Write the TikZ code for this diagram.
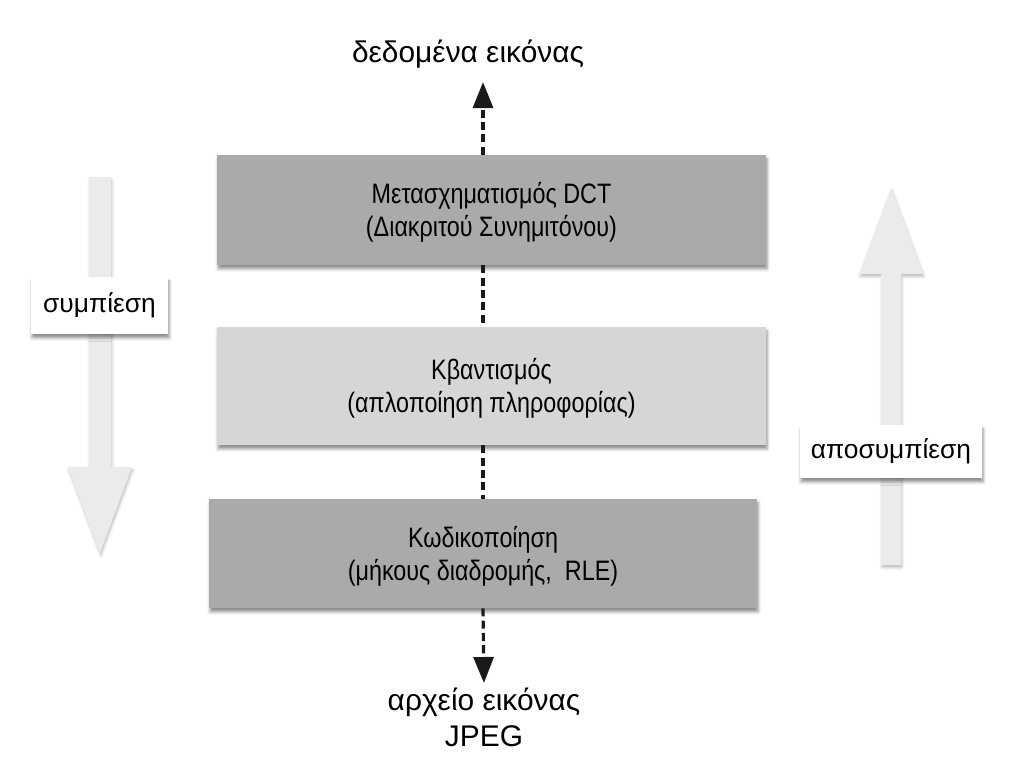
\documentclass[tikz,border=0pt]{standalone}
\usepackage{fontspec}
\setmainfont{Liberation Sans}
\newfontfamily\boxfont{Liberation Sans}[FakeStretch=0.83]
\usetikzlibrary{arrows.meta,shadows.blur}

\definecolor{darkstage}{HTML}{AAAAAA}
\definecolor{lightstage}{HTML}{D6D6D6}
\definecolor{bigarrow}{HTML}{EBEBEB}
\definecolor{flowgray}{HTML}{1A1A1A}

\begin{document}
\begin{tikzpicture}[
            x=0.02cm, y=-0.02cm,
            stage/.style={rectangle, minimum width=10.98cm, minimum height=2.2cm, inner sep=0pt,
                align=center, font=\boxfont\fontsize{16}{19}\selectfont, text height=34pt,
                blur shadow={shadow xshift=0.6pt, shadow yshift=-2.2pt, shadow blur radius=1.8pt, shadow opacity=45}},
            tag/.style={rectangle, fill=white, inner sep=0pt, font=\fontsize{15}{18}\selectfont,
                blur shadow={shadow xshift=0.6pt, shadow yshift=-2.2pt, shadow blur radius=1.8pt, shadow opacity=45}},
            io/.style={inner sep=0pt, align=center, font=\fontsize{17}{20.5}\selectfont},
            flow/.style={draw=flowgray, line width=1.8pt, dash pattern=on 4.6pt off 2.4pt,
                -{Triangle[length=0.52cm, width=0.4cm]}},
            link/.style={draw=flowgray, line width=1.8pt, dash pattern=on 4.6pt off 2.4pt},
            bigarr/.style={fill=bigarrow,
                blur shadow={shadow xshift=0.5pt, shadow yshift=-1.5pt, shadow blur radius=1.5pt, shadow opacity=25}}
        ]
        \useasboundingbox (0,0) rectangle (1011,783);

        % big arrows
        \path[bigarr] (89,177) -- (111,177) -- (111,467) -- (132,467) -- (100,553) -- (68,467) -- (89,467) -- cycle;
        \path[bigarr] (881,565) -- (901,565) -- (901,274) -- (923,274) -- (891,188) -- (859,274) -- (881,274) -- cycle;

        \node[tag, minimum width=2.74cm, minimum height=1.14cm] (comp) at (99.5,305.5) {συμπίεση};
        \node[tag, minimum width=3.64cm, minimum height=1.06cm] (decomp) at (891,451.5) {αποσυμπίεση};

        % stages
        \node[stage, fill=darkstage] (dct) at (491.5,210) {Μετασχηματισμός DCT\\(Διακριτού Συνημιτόνου)};
        \node[stage, fill=lightstage, minimum height=2.36cm] (qnt) at (491.5,386) {Κβαντισμός\\(απλοποίηση πληροφορίας)};
        \node[stage, fill=darkstage, minimum width=10.96cm, minimum height=2.18cm] (cod) at (483,553.5) {Κωδικοποίηση\\(μήκους διαδρομής,\ \ RLE)};

        \node[io, anchor=base] (data) at (468,63) {δεδομένα εικόνας};
        \node[io, anchor=north] (jpeg) at (484,688) {αρχείο εικόνας\\JPEG};

        \draw[flow, shorten >=0.26cm] (dct.north -| cod) -- (data.south -| cod);
        \draw[link] (dct.south -| cod) -- (qnt.north -| cod);
        \draw[link] (qnt.south -| cod) -- (cod.north);
        \draw[flow, shorten >=0.1cm] (cod.south) -- (jpeg.north);
    \end{tikzpicture}
\end{document}
